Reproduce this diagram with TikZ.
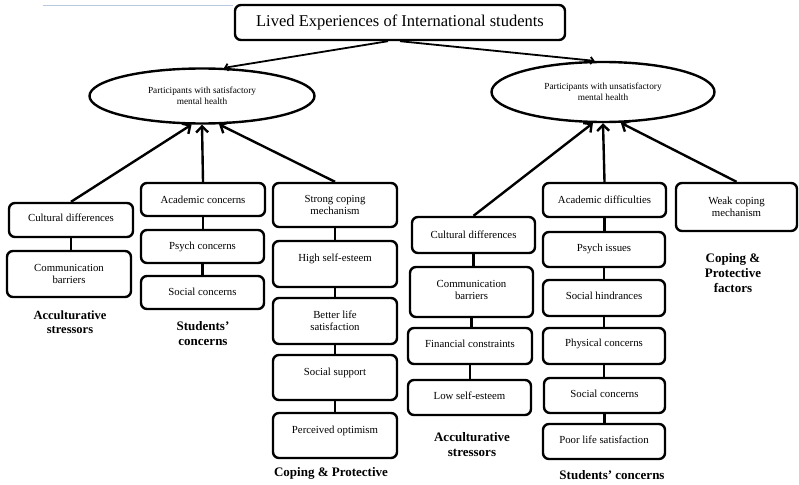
\documentclass[tikz,border=0pt]{standalone}
\usepackage{fontspec}
\setmainfont{Liberation Serif}
\usetikzlibrary{arrows.meta,shapes.geometric,fit}
\tikzset{
 box/.style={draw, line width=2.4pt, rounded corners=6pt, inner sep=0pt},
 boxtext/.style={font=\fontsize{10.8}{12}\selectfont, align=center, inner sep=0pt},
 ell/.style={draw, ellipse, line width=2.4pt, inner sep=0pt, align=center, font=\fontsize{9.3}{11}\selectfont},
 grp/.style={font=\bfseries\fontsize{13}{15}\selectfont, align=center, inner sep=0pt},
 arr/.style={line width=2.4pt, -{Straight Barb[length=6pt,width=12pt,line width=2.4pt]}},
 toparr/.style={line width=1.8pt, -{Straight Barb[length=3pt,width=7pt]}},
 link/.style={line width=2.4pt},
}
\newcommand\tbox[7]{%
  \node[box, fit={(#2,#3) (#4,#5)}] (#1) {};
  \node[boxtext] at ([yshift=#7pt]#1.center) {#6};}
\begin{document}
\begin{tikzpicture}[x=1pt,y=-1pt]
\useasboundingbox (0,0) rectangle (799,484);
\draw[line width=0.8pt, color={rgb,255:red,184;green,200;blue,222}] (43,5) -- (233,5);

\node[box, minimum width=330pt, minimum height=35pt, font=\fontsize{16.5}{18}\selectfont] (title) at (400,22.5) {Lived Experiences of International students};

\node[ell, minimum width=225pt, minimum height=55pt] (ellL) at (202,96) {Participants with satisfactory\\mental health};
\node[ell, minimum width=223pt, minimum height=60pt] (ellR) at (603,92) {Participants with unsatisfactory\\mental health};

% left group
\tbox{cdL}{9}{203}{133}{237}{Cultural differences}{2}
\tbox{cbL}{7}{251}{131}{297}{Communication\\barriers}{0}
\tbox{acL}{141}{183}{265}{216}{Academic concerns}{0}
\tbox{pcL}{141}{230}{264}{263}{Psych concerns}{0}
\tbox{scL}{141}{276}{264}{309}{Social concerns}{1}
\tbox{sgL}{273}{183}{397}{227}{Strong coping\\mechanism}{0}
\tbox{hsL}{273}{241}{397}{287}{High self-esteem}{5}
\tbox{blL}{273}{298}{397}{344}{Better life\\satisfaction}{0}
\tbox{ssL}{273}{355}{397}{400}{Social support}{5}
\tbox{poL}{273}{413}{397}{458}{Perceived optimism}{5}

% right group
\tbox{cdR}{412}{217}{535}{253}{Cultural differences}{0}
\tbox{cbR}{410}{267}{533}{317}{Communication\\barriers}{2}
\tbox{fcR}{408}{328}{532}{364}{Financial constraints}{2}
\tbox{lsR}{408}{380}{531}{415}{Low self-esteem}{2}
\tbox{adR}{543}{183}{666}{217}{Academic difficulties}{0}
\tbox{piR}{543}{232}{665}{267}{Psych issues}{1}
\tbox{shR}{543}{280}{665}{316}{Social hindrances}{2}
\tbox{pyR}{543}{328}{665}{364}{Physical concerns}{2}
\tbox{scR}{544}{378}{665}{413}{Social concerns}{2}
\tbox{plR}{543}{424}{665}{459}{Poor life satisfaction}{2}
\tbox{wcR}{676}{183}{797}{231}{Weak coping\\mechanism}{0}

% group labels
\node[grp, font=\bfseries\fontsize{12.5}{14}\selectfont] (gl1) at (70,322) {Acculturative\\stressors};
\node[grp] (gl2) at (203,334) {Students'\\concerns};
\node[grp] (gl3) at (331,473) {Coping \& Protective};
\node[grp] (gr1) at (472,445) {Acculturative\\stressors};
\node[grp] (gr2) at (612,475) {Students' concerns};
\node[grp] (gr3) at (733,273) {Coping \&\\Protective\\factors};

% top arrows
\draw[toparr] ([xshift=-12pt]title.south) -- (ellL.52);
\draw[toparr] (title.south) -- (ellR.105);

% arrows into ellipses
\draw[arr] (cdL.north) -- (ellL.250);
\draw[arr] (acL.north) -- (ellL.south);
\draw[arr] (sgL.north) -- (ellL.301);
\draw[arr] (cdR.north) -- (ellR.252);
\draw[arr] (adR.north) -- (ellR.south);
\draw[arr] (wcR.north) -- (ellR.300);

% column links
\draw[link] (cdL.south) -- (cdL.south |- cbL.north);
\draw[link] (acL.south) -- (acL.south |- pcL.north);
\draw[link] (pcL.south) -- (pcL.south |- scL.north);
\draw[link] (sgL.south) -- (sgL.south |- hsL.north);
\draw[link] (hsL.south) -- (hsL.south |- blL.north);
\draw[link] (blL.south) -- (blL.south |- ssL.north);
\draw[link] (ssL.south) -- (ssL.south |- poL.north);
\draw[link] (cdR.south) -- (cdR.south |- cbR.north);
\draw[link] (cbR.south) -- (cbR.south |- fcR.north);
\draw[link] (fcR.south) -- (fcR.south |- lsR.north);
\draw[link] (adR.south) -- (adR.south |- piR.north);
\draw[link] (piR.south) -- (piR.south |- shR.north);
\draw[link] (shR.south) -- (shR.south |- pyR.north);
\draw[link] (pyR.south) -- (pyR.south |- scR.north);
\draw[link] (scR.south) -- (scR.south |- plR.north);
\end{tikzpicture}
\end{document}
